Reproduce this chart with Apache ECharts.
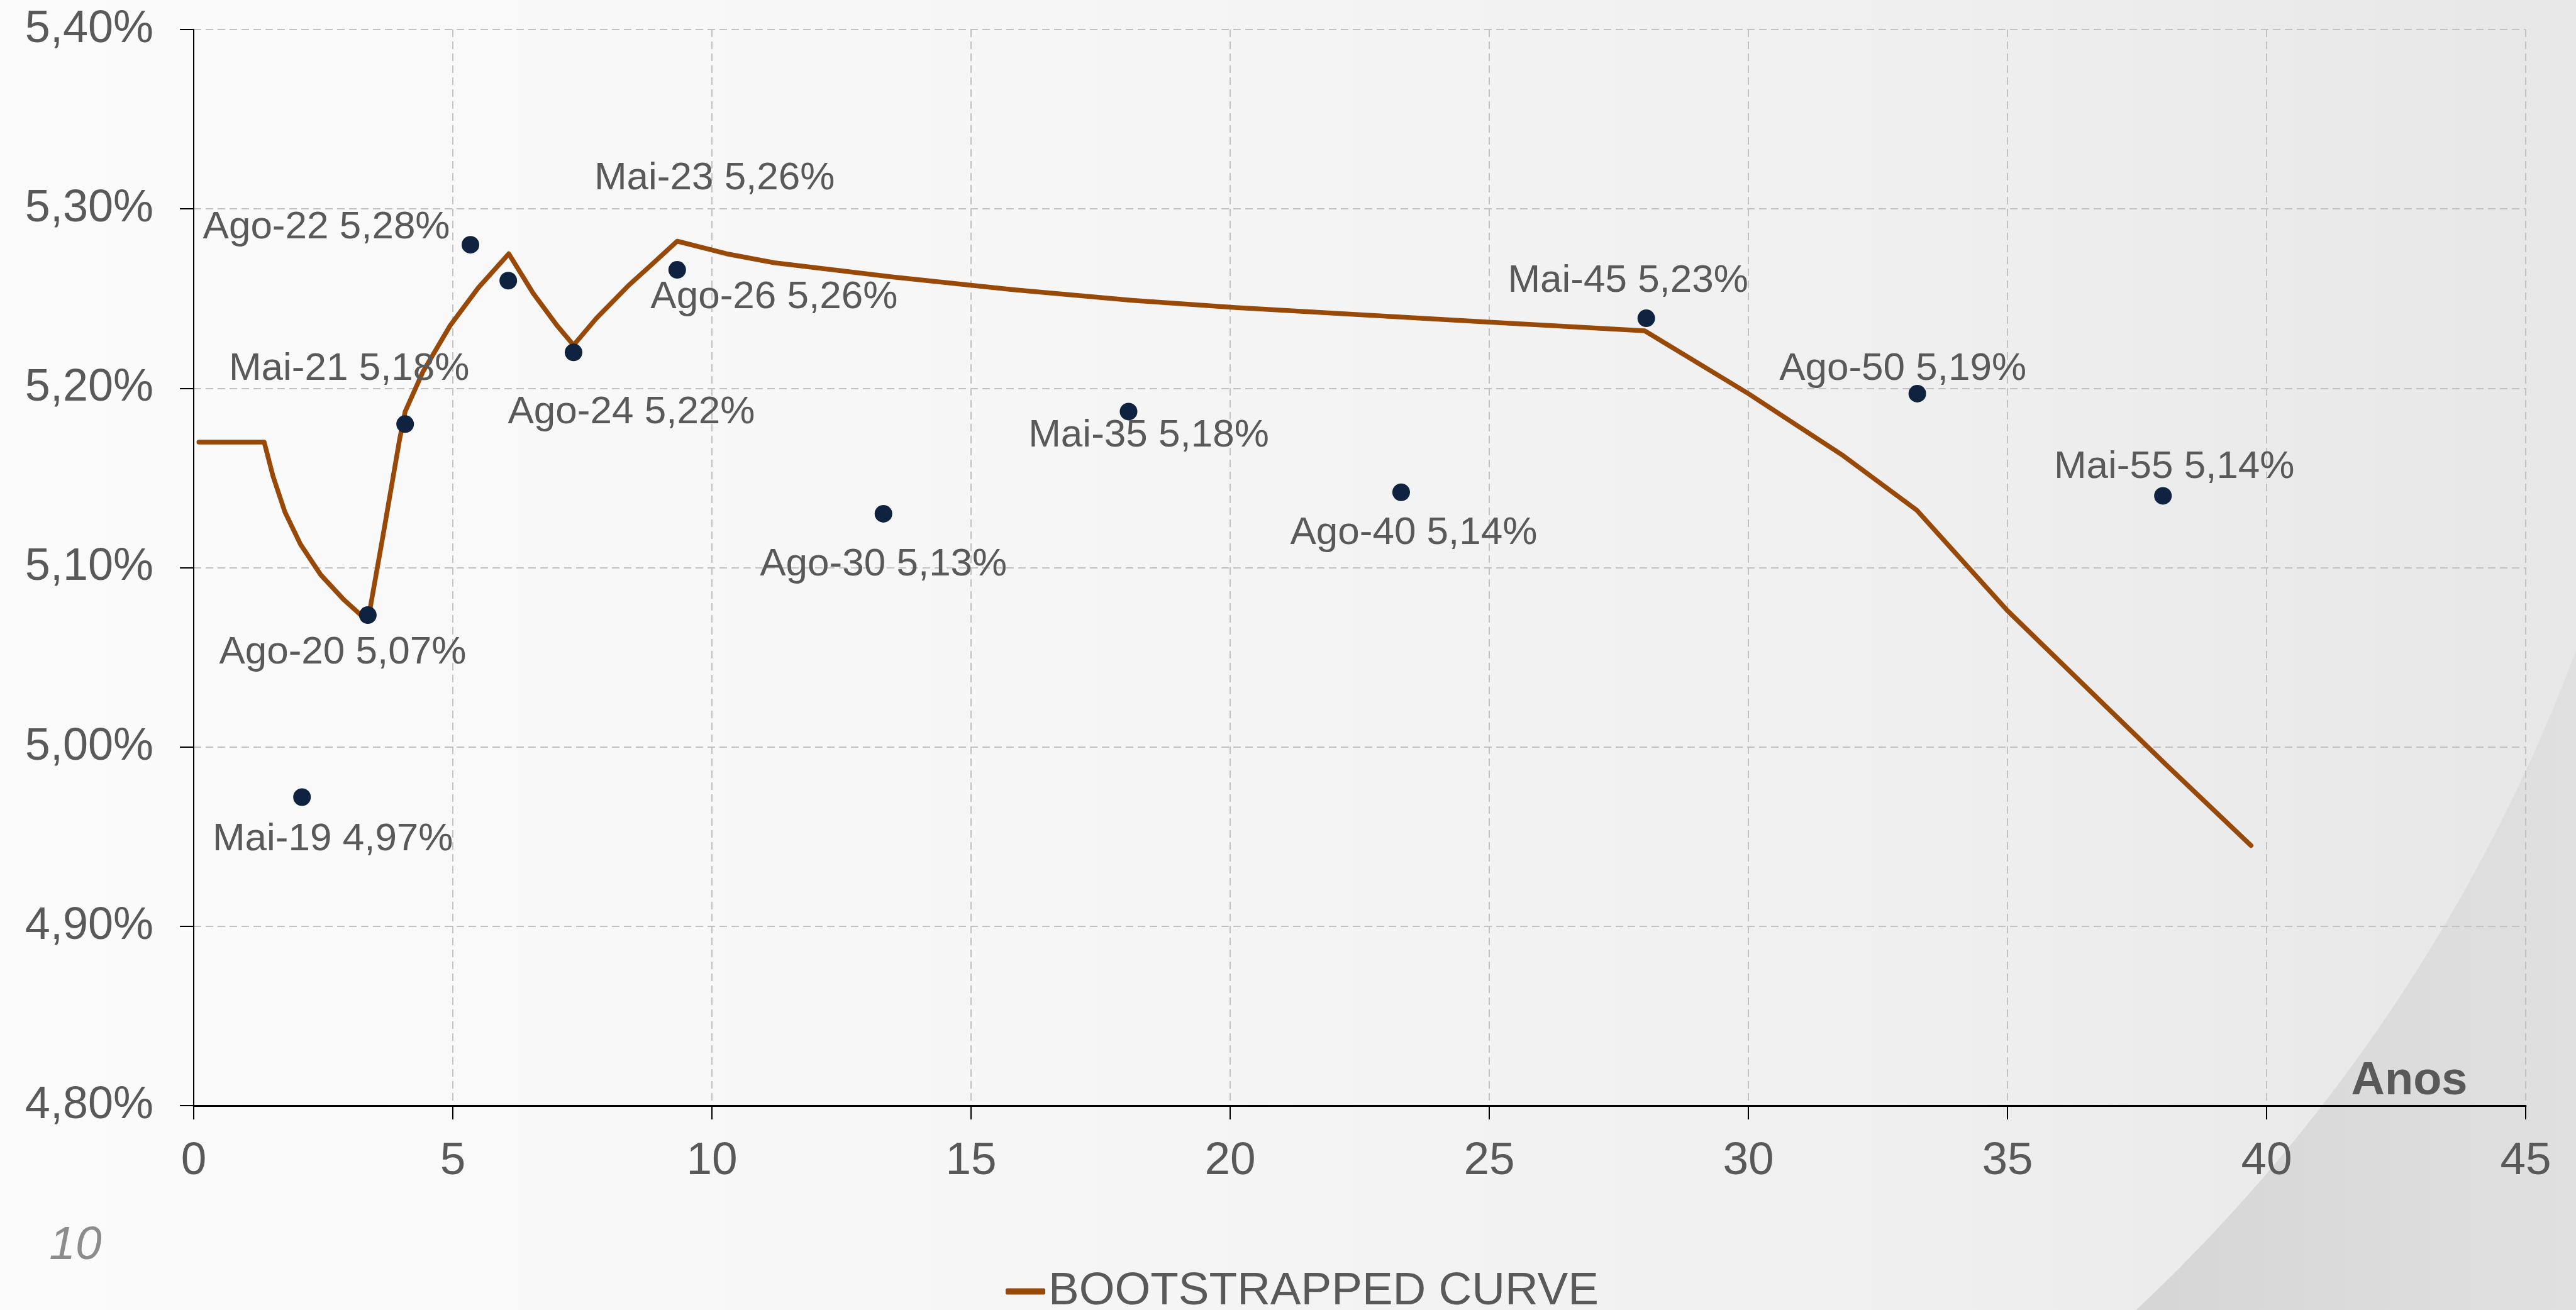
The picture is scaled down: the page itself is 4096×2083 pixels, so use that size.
<!DOCTYPE html>
<html>
<head>
<meta charset="utf-8">
<title>Bootstrapped curve</title>
<script src="https://cdn.jsdelivr.net/npm/echarts@6/dist/echarts.min.js"></script>
<style>
  html, body { margin: 0; padding: 0; }
  #chart { width: 4096px; height: 2083px; }
</style>
</head>
<body>
<div id="chart"></div>
<script>
// bootstrapped curve (years, rate %)
const curveYears = [0.1, 1.36, 1.53, 1.76, 2.06, 2.45, 2.9, 3.36, 3.66, 3.97, 4.08, 4.42, 4.95, 5.49, 6.08,
  6.55, 7.01, 7.33, 7.77, 8.38, 8.84, 9.33, 10.28, 11.2, 13.5, 15.8, 18.1, 20.1, 24.9, 28.0,
  30.0, 31.8, 33.25, 35.0, 36.85, 38.1, 39.7];
const curveRates = [5.17, 5.17, 5.151, 5.131, 5.113, 5.096, 5.082, 5.07, 5.119, 5.171, 5.187, 5.209, 5.235, 5.256, 5.275,
  5.253, 5.235, 5.224, 5.239, 5.257, 5.269, 5.282, 5.275, 5.27, 5.262, 5.255, 5.249, 5.245, 5.237, 5.232,
  5.197, 5.163, 5.132, 5.076, 5.024, 4.989, 4.945];

// bonds
const bondNames = ["Mai-19", "Ago-20", "Mai-21", "Ago-22", "Mai-23", "Ago-24", "Ago-26",
  "Ago-30", "Mai-35", "Ago-40", "Mai-45", "Ago-50", "Mai-55"];
const bondYears = [2.09, 3.36, 4.08, 5.34, 6.07, 7.33, 9.33, 13.31, 18.04, 23.3, 28.03, 33.26, 38.0];
const bondRates = [4.972, 5.0735, 5.18, 5.28, 5.26, 5.22, 5.266, 5.13, 5.187, 5.142, 5.239, 5.197, 5.14];
const bondRateLabels = ["4,97%", "5,07%", "5,18%", "5,28%", "5,26%", "5,22%", "5,26%",
  "5,13%", "5,18%", "5,14%", "5,23%", "5,19%", "5,14%"];

// where each bond label sits relative to its dot (px)
const labelOffsets = [[49, 67], [-40, 60], [-89, -87], [-229, -27], [328, -162], [92, 96], [154, 44],
  [0, 81], [32, 39], [20, 65], [-29, -59], [-23, -39], [18, -46]];

const FONT = '"Liberation Sans", Arial, sans-serif';
const GREY = "#595959";

const chart = echarts.init(document.getElementById("chart"), null, { renderer: "canvas" });

const option = {
  animation: false,
  backgroundColor: "#f7f7f7",
  graphic: {
    elements: [
      {
        type: "rect",
        z: -100,
        silent: true,
        shape: { x: 0, y: 0, width: 4096, height: 2083 },
        style: {
          fill: {
            type: "linear", x: 3300, y: 0, x2: 4096, y2: 0, global: true,
            colorStops: [
              { offset: 0, color: "#d4d4d5" },
              { offset: 1, color: "#e0e0e1" },
            ],
          },
        },
      },
      {
        type: "circle",
        z: -99,
        silent: true,
        shape: { cx: 1500, cy: 60, r: 2773 },
        style: {
          fill: {
            type: "linear", x: 0, y: 0, x2: 4096, y2: 0, global: true,
            colorStops: [
              { offset: 0, color: "#fbfbfb" },
              { offset: 0.4, color: "#f6f6f6" },
              { offset: 0.75, color: "#efeff0" },
              { offset: 1, color: "#e7e7e8" },
            ],
          },
        },
      },
      {
        type: "text",
        x: 3831,
        y: 1720,
        style: {
          text: "Anos",
          fill: GREY,
          font: 'bold 74px ' + FONT,
          align: "center",
          verticalAlign: "middle",
        },
      },
      {
        type: "text",
        x: 120,
        y: 1981,
        style: {
          text: "10",
          fill: "#8c8c8c",
          font: 'italic 75px ' + FONT,
          align: "center",
          verticalAlign: "middle",
        },
      },
    ],
  },
  legend: {
    data: ["BOOTSTRAPPED CURVE"],
    left: 1594,
    top: 2012,
    icon: "roundRect",
    itemWidth: 63,
    itemHeight: 10,
    textStyle: { color: GREY, fontSize: 73, fontFamily: FONT },
  },
  grid: { left: 308, right: 80, top: 47, bottom: 325 },
  xAxis: {
    type: "value",
    min: 0,
    max: 45,
    interval: 5,
    axisLine: { show: true, lineStyle: { color: "#000", width: 3 } },
    axisTick: { show: true, length: 22, lineStyle: { color: "#000", width: 2 } },
    axisLabel: { color: GREY, fontSize: 73, fontFamily: FONT, margin: 52 },
    splitLine: { show: true, lineStyle: { color: "#c2c2c2", width: 2, type: [12, 7] } },
  },
  yAxis: {
    type: "value",
    min: 4.8,
    max: 5.4,
    interval: 0.1,
    axisLine: { show: true, lineStyle: { color: "#000", width: 2 } },
    axisTick: { show: true, length: 22, lineStyle: { color: "#000", width: 2 } },
    axisLabel: {
      color: GREY, fontSize: 72, fontFamily: FONT, margin: 64,
      formatter: (v) => v.toFixed(2).replace(".", ",") + "%",
    },
    splitLine: { show: true, lineStyle: { color: "#c2c2c2", width: 2, type: [12, 7] } },
  },
  series: [
    {
      name: "BOOTSTRAPPED CURVE",
      type: "line",
      data: curveYears.map((x, i) => [x, curveRates[i]]),
      symbol: "none",
      smooth: false,
      color: "#984807",
      lineStyle: { color: "#984807", width: 7.5, cap: "round", join: "round" },
      z: 3,
    },
    {
      name: "Títulos",
      type: "scatter",
      symbol: "circle",
      symbolSize: 28,
      itemStyle: { color: "#0f223f", opacity: 1 },
      z: 4,
      label: {
        show: true,
        position: "inside",
        color: GREY,
        fontSize: 62,
        fontFamily: FONT,
        align: "center",
        verticalAlign: "middle",
        formatter: (p) => bondNames[p.dataIndex] + " " + bondRateLabels[p.dataIndex],
      },
      data: bondYears.map((x, i) => ({
        name: bondNames[i],
        value: [x, bondRates[i]],
        label: { offset: labelOffsets[i] },
      })),
    },
  ],
};

chart.setOption(option);
window.addEventListener("resize", () => chart.resize());
</script>
</body>
</html>
